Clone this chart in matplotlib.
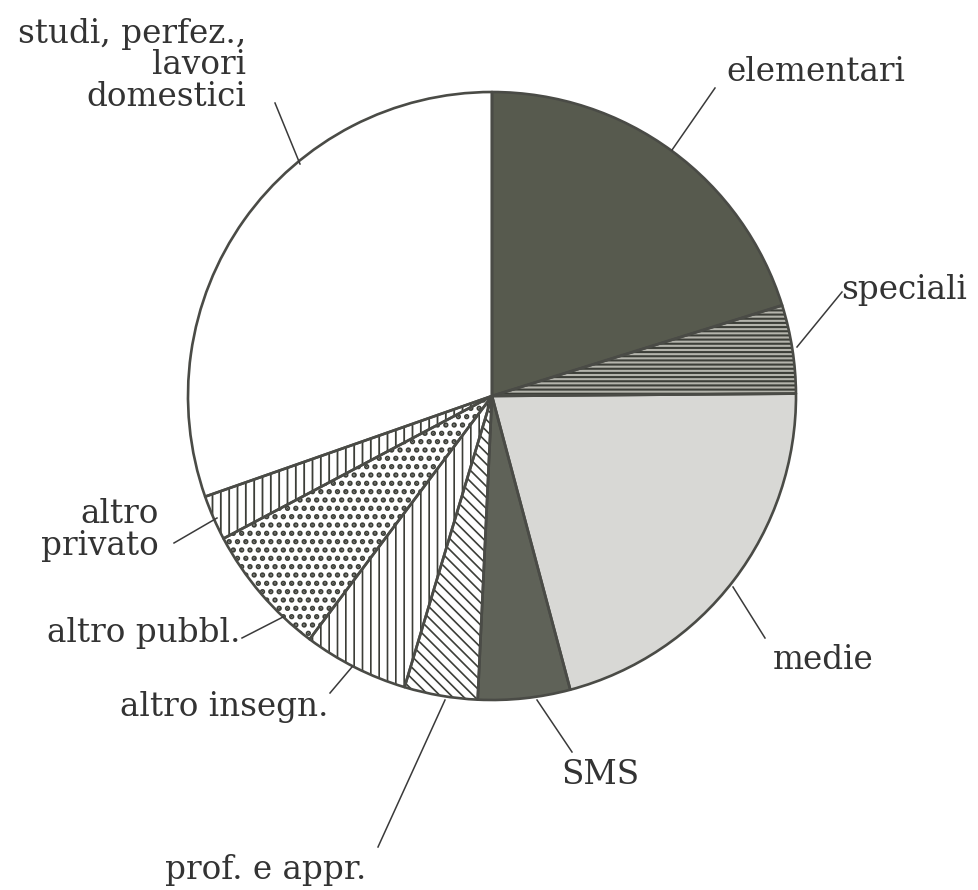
import matplotlib
matplotlib.use("Agg")
import matplotlib.pyplot as plt
from matplotlib.patches import Wedge

# ---- data (shares of time, %; clockwise from 12 o'clock)
categories = ["elementari", "speciali", "medie", "SMS", "prof. e appr.",
              "altro insegn.", "altro pubbl.", "altro privato",
              "studi, perfez., lavori domestici"]
values = [20.2, 4.7, 21.0, 4.9, 3.9, 5.6, 7.0, 2.4, 30.4]

# ---- styles
face_colors = ["#575a4e", "#b4b4ac", "#d8d8d5", "#5f6258", "#ffffff",
               "#ffffff", "#ffffff", "#ffffff", "#ffffff"]
hatches = [None, "----", None, None, "\\\\\\", "||", "..", "||", None]
hatch_lw = [1, 1.5, 1, 1, 1.2, 1.2, 2.6, 1.3, 1]
hatch_color = "#3c3e38"
edge_color = "#4a4b46"
text_color = "#333333"

# label text, text anchor (px), alignment, leader (start on pie, end near text) in px
labels = ["elementari", "speciali", "medie", "SMS", "prof. e appr.",
          "altro insegn.", "altro pubbl.", "altro\nprivato",
          "studi, perfez.,\nlavori\ndomestici"]
text_pos = [(726, 72), (841, 290), (773, 660), (600, 775), (266, 870),
            (328, 707), (240, 633), (159, 530), (246, 65)]
text_ha = ["left", "left", "left", "center", "center",
           "right", "right", "right", "right"]
leaders = [((672, 150), (715, 88)), ((797, 347), (842, 292)),
           ((733, 587), (765, 638)), ((537, 700), (572, 752)),
           ((445, 700), (378, 847)), ((352, 667), (330, 693)),
           ((283, 617), (242, 638)), ((217, 518), (174, 543)),
           ((300, 164), (275, 103))]

W, H = 979, 890
CX, CY, R = 492, 396, 304.0

fig = plt.figure(figsize=(W / 100, H / 100), dpi=100)
ax = fig.add_axes([0, 0, 1, 1])


def px(p):
    return ((p[0] - CX) / R, (CY - p[1]) / R)


wedges, _ = ax.pie(values, startangle=90, counterclock=False,
                   colors=face_colors, radius=1.0, center=(0, 0),
                   wedgeprops=dict(linewidth=0), frame=True)
ax.set_xlim(-CX / R, (W - CX) / R)
ax.set_ylim((CY - H) / R, CY / R)
ax.set_aspect("equal")
ax.axis("off")

for w, h, hl in zip(wedges, hatches, hatch_lw):
    if h:
        with plt.rc_context({"hatch.linewidth": hl}):
            ax.add_patch(Wedge(w.center, w.r, w.theta1, w.theta2,
                               facecolor="none", edgecolor=hatch_color,
                               hatch=h, linewidth=0, zorder=2))
for w in wedges:
    ax.add_patch(Wedge(w.center, w.r, w.theta1, w.theta2,
                       facecolor="none", edgecolor=edge_color,
                       linewidth=1.9, joinstyle="round", zorder=3))

for lab, pos, ha, (p0, p1) in zip(labels, text_pos, text_ha, leaders):
    a, b = px(p0), px(p1)
    ax.plot([a[0], b[0]], [a[1], b[1]], color="#3a3a3a", lw=1.1, zorder=4)
    ax.text(*px(pos), lab, ha=ha, va="center", fontsize=23.5,
            family="DejaVu Serif", color=text_color, linespacing=0.98,
            zorder=5)

fig.savefig("out.png", dpi=100, facecolor="white")
